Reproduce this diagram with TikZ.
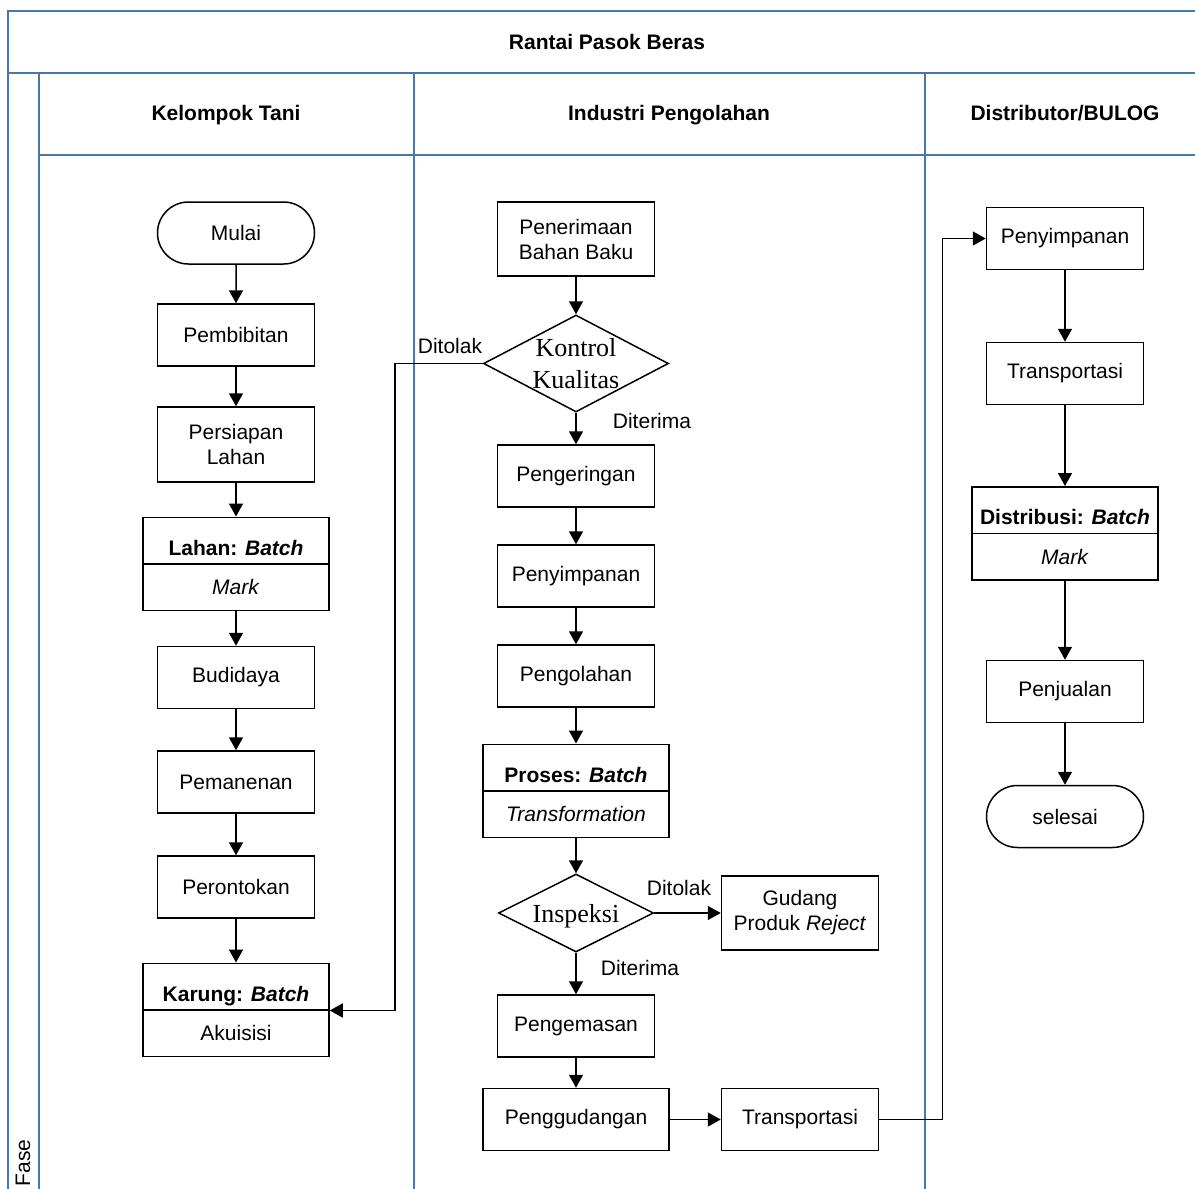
\documentclass[tikz,border=0pt]{standalone}
\usepackage{fontspec}
\setmainfont{Liberation Sans}
\newfontfamily\diamfont{Liberation Serif}
\usetikzlibrary{shapes.geometric,shapes.misc,arrows.meta}

\definecolor{laneblue}{HTML}{4A76A8}

\tikzset{
  lane/.style={draw=laneblue, line width=1.6pt},
  txt/.style={font=\fontsize{21}{25}\selectfont, inner sep=0pt},
  head/.style={font=\bfseries\fontsize{21}{25}\selectfont, inner sep=0pt, anchor=base},
  proc/.style={draw, line width=1.5pt, minimum width=157pt, minimum height=62pt,
    align=center, inner sep=0pt, font=\fontsize{21}{25}\selectfont},
  term/.style={proc, rounded rectangle},
  half/.style={proc, minimum width=186pt, minimum height=46.5pt},
  halftop/.style={half, text height=29pt, text depth=0pt},
  decision/.style={draw, line width=1.5pt, diamond, inner sep=0pt},
  dtext/.style={align=center, inner sep=0pt, font=\diamfont\fontsize{26}{32}\selectfont},
  arr/.style={line width=1.5pt, -{Triangle[length=13pt,width=14pt]}},
}

\begin{document}
\begin{tikzpicture}[x=1pt, y=-1pt]
\useasboundingbox (0,0) rectangle (1195,1189);
\clip (0,0) rectangle (1195,1189);

% swimlane frame
\draw[lane] (8,1200) -- (8,11) -- (1210,11);
\draw[lane] (8,73) -- (1210,73);
\draw[lane] (39,155) -- (1210,155);
\draw[lane] (39,73) -- (39,1200);
\draw[lane] (414,73) -- (414,1200);
\draw[lane] (925,73) -- (925,1200);

\node[head] (title) at (607,49.5) {Rantai Pasok Beras};
\node[head] (h1) at (226,120.5) {Kelompok Tani};
\node[head] (h2) at (669,120.5) {Industri Pengolahan};
\node[head] (h3) at (1065,120.5) {Distributor/BULOG};
\node[txt, rotate=90] (fase) at (23,1163) {Fase};

% Kelompok Tani
\node[term] (mulai) at (236,233) {Mulai};
\node[proc] (bibit) at (236,335) {Pembibitan};
\node[proc, minimum height=75pt] (siap) at (236,444.5) {Persiapan\\Lahan};
\node[halftop] (lahanA) at (236,540.5) {\textbf{Lahan: \textit{Batch}}};
\node[half] (lahanB) at (236,587) {\textit{Mark}};
\node[proc] (budi) at (236,677.5) {Budidaya};
\node[proc] (panen) at (236,782) {Pemanenan};
\node[proc] (rontok) at (236,887) {Perontokan};
\node[halftop] (karA) at (236,986.5) {\textbf{Karung: \textit{Batch}}};
\node[half] (karB) at (236,1033) {Akuisisi};

% Industri Pengolahan
\node[proc, minimum height=74pt] (terima) at (576,239) {Penerimaan\\Bahan Baku};
\node[decision, minimum width=185pt, minimum height=97pt] (kontrol) at (576,363.5) {};
\node[dtext] (kontrolT) at (kontrol.center) {Kontrol\\Kualitas};
\node[proc] (kering) at (576,476) {Pengeringan};
\node[proc] (simpan) at (576,576) {Penyimpanan};
\node[proc] (olah) at (576,676) {Pengolahan};
\node[halftop] (prosesA) at (576,767.5) {\textbf{Proses: \textit{Batch}}};
\node[half] (prosesB) at (576,814) {\textit{Transformation}};
\node[decision, minimum width=155pt, minimum height=78pt] (insp) at (576,913) {};
\node[dtext, yshift=-3pt] (inspT) at (insp.center) {Inspeksi};
\node[proc, minimum height=74pt] (reject) at (800,913) {Gudang\\Produk \textit{Reject}};
\node[proc] (kemas) at (576,1026) {Pengemasan};
\node[proc, minimum width=186pt] (gudang) at (576,1119.5) {Penggudangan};
\node[proc] (trans) at (800,1119.5) {Transportasi};

% Distributor/BULOG
\node[proc] (simpan3) at (1065,238.5) {Penyimpanan};
\node[proc] (trans3) at (1065,373.5) {Transportasi};
\node[halftop] (distA) at (1065,510) {\textbf{Distribusi: \textit{Batch}}};
\node[half] (distB) at (1065,556.5) {\textit{Mark}};
\node[proc] (jual) at (1065,691.5) {Penjualan};
\node[term] (selesai) at (1065,816.5) {selesai};

% flow, Kelompok Tani
\draw[arr] (mulai) -- (bibit);
\draw[arr] (bibit) -- (siap);
\draw[arr] (siap) -- (lahanA);
\draw[arr] (lahanB) -- (budi);
\draw[arr] (budi) -- (panen);
\draw[arr] (panen) -- (rontok);
\draw[arr] (rontok) -- (karA);

% flow, Industri Pengolahan
\draw[arr] (terima) -- (kontrol.north);
\draw[arr] (kontrol.south) -- (kering);
\draw[arr] (kering) -- (simpan);
\draw[arr] (simpan) -- (olah);
\draw[arr] (olah) -- (prosesA);
\draw[arr] (prosesB) -- (insp.north);
\draw[arr] (insp.east) -- (reject);
\draw[arr] (insp.south) -- (kemas);
\draw[arr] (kemas) -- (gudang);
\draw[arr] (gudang) -- (trans);
\draw[arr] (kontrol.west) -- ++(-88,0) |- (karA.south east);
\draw[arr] (trans.east) -- ++(63,0) |- (simpan3.west);

% flow, Distributor/BULOG
\draw[arr] (simpan3) -- (trans3);
\draw[arr] (trans3) -- (distA);
\draw[arr] (distB) -- (jual);
\draw[arr] (jual) -- (selesai);

% decision labels
\node[txt] (tolak1) at (450,346) {Ditolak};
\node[txt] (terima1) at (652,421) {Diterima};
\node[txt] (tolak2) at (679,888) {Ditolak};
\node[txt] (terima2) at (640,968) {Diterima};
\end{tikzpicture}
\end{document}
